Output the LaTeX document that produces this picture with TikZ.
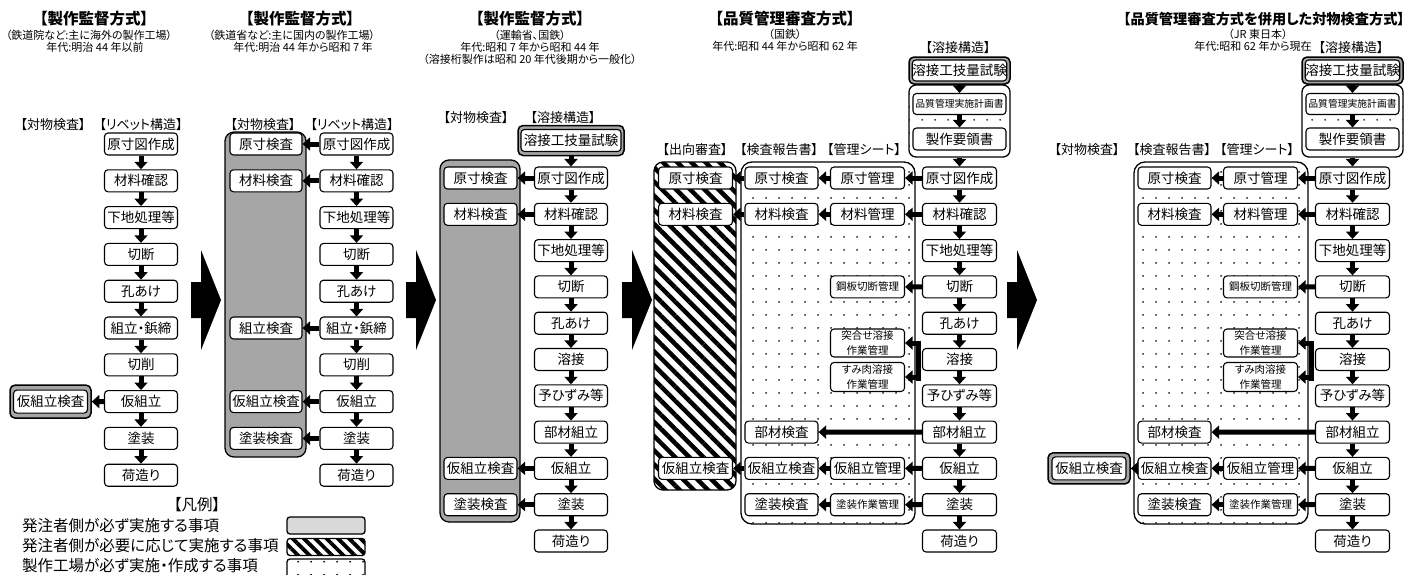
\documentclass[tikz,border=0pt]{standalone}
\usepackage{fontspec}
\setmainfont{Noto Sans CJK JP}[RawFeature=+palt]
\usetikzlibrary{arrows.meta,patterns.meta}
\definecolor{colG}{RGB}{166,166,166}
\definecolor{colL}{RGB}{217,217,217}
\newcommand\fsz[2]{\fontsize{#1}{#2}\selectfont}
\begin{document}
\begin{tikzpicture}[x=1pt,y=-1pt,
  bx/.style={draw, fill=white, rounded corners=3.5pt, line width=1.1pt, minimum width=73pt, minimum height=22pt, inner sep=0pt, font=\fsz{13.5}{15}},
  wb/.style={bx, minimum width=74pt},
  sm/.style={bx, minimum width=74pt, font=\fsz{10.5}{14.5}, align=center},
  gcont/.style={draw, fill=colG, rounded corners=5pt, line width=1.5pt, inner sep=0pt},
  gcol/.style={draw, fill=colG, rounded corners=9pt, line width=1.3pt, inner sep=0pt},
  dcol/.style={draw, fill=white, rounded corners=11pt, line width=1.3pt, inner sep=0pt, postaction={pattern={Dots[distance=13pt,radius=1pt]}}},
  hcol/.style={draw, fill=white, rounded corners=9pt, line width=1.3pt, inner sep=0pt, postaction={pattern={Lines[angle=-45,distance=10pt,line width=4.5pt]}}},
  arr/.style={line width=5pt, -{Triangle[width=13pt,length=7.5pt]}},
  hd/.style={font=\fsz{13}{15}, inner sep=0pt},
  ttl/.style={font=\bfseries\fsz{15.5}{18}, inner sep=0pt},
  sub/.style={font=\fsz{11}{12}, inner sep=0pt},
  lg/.style={font=\fsz{15.5}{17}, inner sep=0pt, anchor=west}
]
\fill[white] (0,0) rectangle (1415,574);
\useasboundingbox (0,0) rectangle (1415,574);

% big arrows between sections
\foreach \x in {191,406,622,1007}{
  \fill (\x,282) -- (\x+10,282) -- (\x+10,250) -- (\x+30,300) -- (\x+10,350) -- (\x+10,318) -- (\x,318) -- cycle;
}

% ---------------- Section 1 ----------------
\node[ttl] (t1) at (94,19) {【製作監督方式】};
\node[sub] (t1a) at (89,35) {（鉄道院など:主に海外の製作工場）};
\node[sub] (t1b) at (95,47) {年代:明治 44 年以前};
\node[hd] (h1a) at (53,125) {【対物検査】};
\node[hd] (h1b) at (141,125) {【リベット構造】};
\foreach \t [count=\i from 0] in {原寸図作成,材料確認,下地処理等,切断,孔あけ,組立・鋲締,切削,仮組立,塗装,荷造り}
  \node[bx] (a\i) at (141,{144+36.8*\i}) {\t};
\foreach \i in {0,...,8}{\pgfmathtruncatemacro\j{\i+1}\draw[arr] (a\i) -- (a\j);}
\node[gcont, minimum width=81pt, minimum height=33pt] (a7o) at (50.5,401.6) {};
\node[bx, minimum width=74pt, minimum height=23pt] (a7k) at (50.5,401.6) {仮組立検査};
\draw[arr] (a7) -- (a7o);

% ---------------- Section 2 ----------------
\node[ttl] (t2) at (300,19) {【製作監督方式】};
\node[sub] (t2a) at (292,35) {（鉄道省など:主に国内の製作工場）};
\node[sub] (t2b) at (303,47) {年代:明治 44 年から昭和 7 年};
\node[hd] (h2a) at (263,125) {【対物検査】};
\node[hd] (h2b) at (352,125) {【リベット構造】};
\node[gcol, minimum width=81pt, minimum height=325pt] (bcol) at (265.5,294.5) {};
\foreach \t [count=\i from 0] in {原寸図作成,材料確認,下地処理等,切断,孔あけ,組立・鋲締,切削,仮組立,塗装,荷造り}
  \node[bx] (b\i) at (356.5,{144+36.8*\i}) {\t};
\foreach \i in {0,...,8}{\pgfmathtruncatemacro\j{\i+1}\draw[arr] (b\i) -- (b\j);}
\foreach \t/\i in {原寸検査/0,材料検査/1,組立検査/5,仮組立検査/7,塗装検査/8}{
  \node[bx, minimum width=72pt] (bk\i) at (266,{144+36.8*\i}) {\t};
  \draw[arr] (b\i) -- (bk\i);
}

% ---------------- Section 3 ----------------
\node[ttl] (t3) at (530,19) {【製作監督方式】};
\node[sub] (t3a) at (530,35) {（運輸省、国鉄）};
\node[sub] (t3b) at (530,47) {年代:昭和 7 年から昭和 44 年};
\node[sub] (t3c) at (530,59) {（溶接桁製作は昭和 20 年代後期から一般化）};
\node[hd] (h3a) at (476,118) {【対物検査】};
\node[hd] (h3b) at (563,118) {【溶接構造】};
\node[gcol, minimum width=80pt, minimum height=362pt] (ccol) at (480,341) {};
\node[gcont, minimum width=106pt, minimum height=30pt] (cwo) at (571,140.5) {};
\node[bx, minimum width=100pt] (cw) at (571,140.5) {溶接工技量試験};
\foreach \t [count=\i from 0] in {原寸図作成,材料確認,下地処理等,切断,孔あけ,溶接,予ひずみ等,部材組立,仮組立,塗装,荷造り}
  \node[bx] (c\i) at (571,{178+36.3*\i}) {\t};
\draw[arr] (cwo) -- (c0);
\foreach \i in {0,...,9}{\pgfmathtruncatemacro\j{\i+1}\draw[arr] (c\i) -- (c\j);}
\foreach \t/\i in {原寸検査/0,材料検査/1,仮組立検査/8,塗装検査/9}{
  \node[bx] (ck\i) at (480.5,{178+36.3*\i}) {\t};
  \draw[arr] (c\i) -- (ck\i);
}

% ---------------- Section 4 ----------------
\node[ttl] (t4) at (785,19) {【品質管理審査方式】};
\node[sub] (t4a) at (785,34) {（国鉄）};
\node[sub] (t4b) at (785,46) {年代:昭和 44 年から昭和 62 年};
\node[hd] (h4w) at (958,48) {【溶接構造】};
\node[hd] (h4a) at (695,150) {【出向審査】};
\node[hd] (h4b) at (779,150) {【検査報告書】};
\node[hd] (h4c) at (864,150) {【管理シート】};
\node[hcol, minimum width=82pt, minimum height=328pt] (dhcol) at (695,326) {};
\node[dcol, minimum width=174pt, minimum height=362pt] (ddcol) at (828,343) {};
\node[gcont, minimum width=101pt, minimum height=27pt] (dwo) at (959.5,70.5) {};
\node[bx, minimum width=93pt, minimum height=21pt] (dw) at (959.5,70.5) {溶接工技量試験};
\node[dcol, rounded corners=7pt, minimum width=101pt, minimum height=72pt] (dq) at (959.5,121) {};
\node[bx, minimum width=93pt, minimum height=21pt, font=\fsz{9.8}{11}] (dp) at (959.5,104) {品質管理実施計画書};
\node[bx, minimum width=93pt, minimum height=22pt] (ds) at (959.5,139) {製作要領書};
\draw[arr] (dwo) -- (dp);
\draw[arr] (dp) -- (ds);
\foreach \t [count=\i from 0] in {原寸図作成,材料確認,下地処理等,切断,孔あけ,溶接,予ひずみ等,部材組立,仮組立,塗装,荷造り}
  \node[wb] (d\i) at (959.5,{178+36.3*\i}) {\t};
\draw[arr] (dq) -- (d0);
\foreach \i in {0,...,9}{\pgfmathtruncatemacro\j{\i+1}\draw[arr] (d\i) -- (d\j);}
% management sheets
\node[wb] (dm0) at (867.5,178) {原寸管理};
\node[wb] (dm1) at (867.5,214.3) {材料管理};
\node[sm] (dm3) at (867.5,286.9) {鋼板切断管理};
\node[sm, minimum height=28pt] (dmt) at (867.5,343) {突合せ溶接\\作業管理};
\node[sm, minimum height=29pt] (dms) at (867.5,377) {すみ肉溶接\\作業管理};
\node[wb] (dm8) at (867.5,468.4) {仮組立管理};
\node[sm] (dm9) at (867.5,504.7) {塗装作業管理};
% reports
\node[wb, minimum width=73pt] (dr0) at (781.5,178) {原寸検査};
\node[wb, minimum width=73pt] (dr1) at (781.5,214.3) {材料検査};
\node[wb, minimum width=73pt] (dr7) at (781.5,432.1) {部材検査};
\node[wb, minimum width=73pt] (dr8) at (781.5,468.4) {仮組立検査};
\node[wb, minimum width=73pt] (dr9) at (781.5,504.7) {塗装検査};
% dispatched inspection
\node[wb] (dh0) at (695.5,178) {原寸検査};
\node[wb] (dh1) at (695.5,214.3) {材料検査};
\node[wb] (dh8) at (695.5,468.4) {仮組立検査};
\draw[arr] (d0) -- (dm0); \draw[arr] (dm0) -- (dr0); \draw[arr] (dr0) -- (dh0);
\draw[arr] (d1) -- (dm1); \draw[arr] (dm1) -- (dr1); \draw[arr] (dr1) -- (dh1);
\draw[arr] (d3) -- (dm3);
\draw[arr] (d7) -- (dr7);
\draw[arr] (d8) -- (dm8); \draw[arr] (dm8) -- (dr8); \draw[arr] (dr8) -- (dh8);
\draw[arr] (d9) -- (dm9); \draw[arr] (dm9) -- (dr9);
\coordinate (dbt) at (918.5,340.5);
\coordinate (dbb) at (918.5,381);
\coordinate (db1) at (918.5,343);
\coordinate (db2) at (918.5,377);
\draw[line width=4.5pt] (dbt) -- (dbb);
\draw[arr] (db1) -- (dmt);
\draw[arr] (db2) -- (dms);

% ---------------- Section 5 ----------------
\node[ttl, font=\bfseries\fsz{14.2}{17}] (t5) at (1264,19) {【品質管理審査方式を併用した対物検査方式】};
\node[sub] (t5a) at (1258,34) {（JR 東日本）};
\node[sub] (t5b) at (1253,46) {年代:昭和 62 年から現在};
\node[hd] (h5w) at (1351,48) {【溶接構造】};
\node[hd] (h5a) at (1087,150) {【対物検査】};
\node[hd] (h5b) at (1172,150) {【検査報告書】};
\node[hd] (h5c) at (1257,150) {【管理シート】};
\node[dcol, minimum width=174pt, minimum height=362pt] (edcol) at (1221,343) {};
\node[gcont, minimum width=101pt, minimum height=27pt] (ewo) at (1352.5,70.5) {};
\node[bx, minimum width=93pt, minimum height=21pt] (ew) at (1352.5,70.5) {溶接工技量試験};
\node[dcol, rounded corners=7pt, minimum width=101pt, minimum height=72pt] (eq) at (1352.5,121) {};
\node[bx, minimum width=93pt, minimum height=21pt, font=\fsz{9.8}{11}] (ep) at (1352.5,104) {品質管理実施計画書};
\node[bx, minimum width=93pt, minimum height=22pt] (es) at (1352.5,139) {製作要領書};
\draw[arr] (ewo) -- (ep);
\draw[arr] (ep) -- (es);
\foreach \t [count=\i from 0] in {原寸図作成,材料確認,下地処理等,切断,孔あけ,溶接,予ひずみ等,部材組立,仮組立,塗装,荷造り}
  \node[wb] (e\i) at (1352.5,{178+36.3*\i}) {\t};
\draw[arr] (eq) -- (e0);
\foreach \i in {0,...,9}{\pgfmathtruncatemacro\j{\i+1}\draw[arr] (e\i) -- (e\j);}
\node[wb] (em0) at (1260.5,178) {原寸管理};
\node[wb] (em1) at (1260.5,214.3) {材料管理};
\node[sm] (em3) at (1260.5,286.9) {鋼板切断管理};
\node[sm, minimum height=28pt] (emt) at (1260.5,343) {突合せ溶接\\作業管理};
\node[sm, minimum height=29pt] (ems) at (1260.5,377) {すみ肉溶接\\作業管理};
\node[wb] (em8) at (1260.5,468.4) {仮組立管理};
\node[sm] (em9) at (1260.5,504.7) {塗装作業管理};
\node[wb, minimum width=73pt] (er0) at (1174.5,178) {原寸検査};
\node[wb, minimum width=73pt] (er1) at (1174.5,214.3) {材料検査};
\node[wb, minimum width=73pt] (er7) at (1174.5,432.1) {部材検査};
\node[wb, minimum width=73pt] (er8) at (1174.5,468.4) {仮組立検査};
\node[wb, minimum width=73pt] (er9) at (1174.5,504.7) {塗装検査};
\node[gcont, minimum width=82pt, minimum height=31pt] (ek8o) at (1089,468.4) {};
\node[bx, minimum width=74pt, minimum height=23pt] (ek8) at (1089,468.4) {仮組立検査};
\draw[arr] (e0) -- (em0); \draw[arr] (em0) -- (er0);
\draw[arr] (e1) -- (em1); \draw[arr] (em1) -- (er1);
\draw[arr] (e3) -- (em3);
\draw[arr] (e7) -- (er7);
\draw[arr] (e8) -- (em8); \draw[arr] (em8) -- (er8); \draw[arr] (er8) -- (ek8o);
\draw[arr] (e9) -- (em9); \draw[arr] (em9) -- (er9);
\coordinate (ebt) at (1311.5,340.5);
\coordinate (ebb) at (1311.5,381);
\coordinate (eb1) at (1311.5,343);
\coordinate (eb2) at (1311.5,377);
\draw[line width=4.5pt] (ebt) -- (ebb);
\draw[arr] (eb1) -- (emt);
\draw[arr] (eb2) -- (ems);

% ---------------- Legend ----------------
\node[font=\fsz{15.5}{17}, inner sep=0pt] (lgt) at (197,505) {【凡例】};
\node[lg] (lg1t) at (22,526) {発注者側が必ず実施する事項};
\node[lg] (lg2t) at (22,546) {発注者側が必要に応じて実施する事項};
\node[lg] (lg3t) at (22,566) {製作工場が必ず実施・作成する事項};
\node[draw, fill=colL, rounded corners=3pt, line width=1.3pt, inner sep=0pt, minimum width=78pt, minimum height=17pt] (lg1) at (326,525.5) {};
\node[draw, fill=white, rounded corners=3pt, line width=1.3pt, inner sep=0pt, minimum width=78pt, minimum height=17pt, postaction={pattern={Lines[angle=-45,distance=8pt,line width=3.8pt]}}] (lg2) at (326,547) {};
\node[dcol, rounded corners=3pt, minimum width=78pt, minimum height=19pt] (lg3) at (326,568.5) {};
\end{tikzpicture}
\end{document}
